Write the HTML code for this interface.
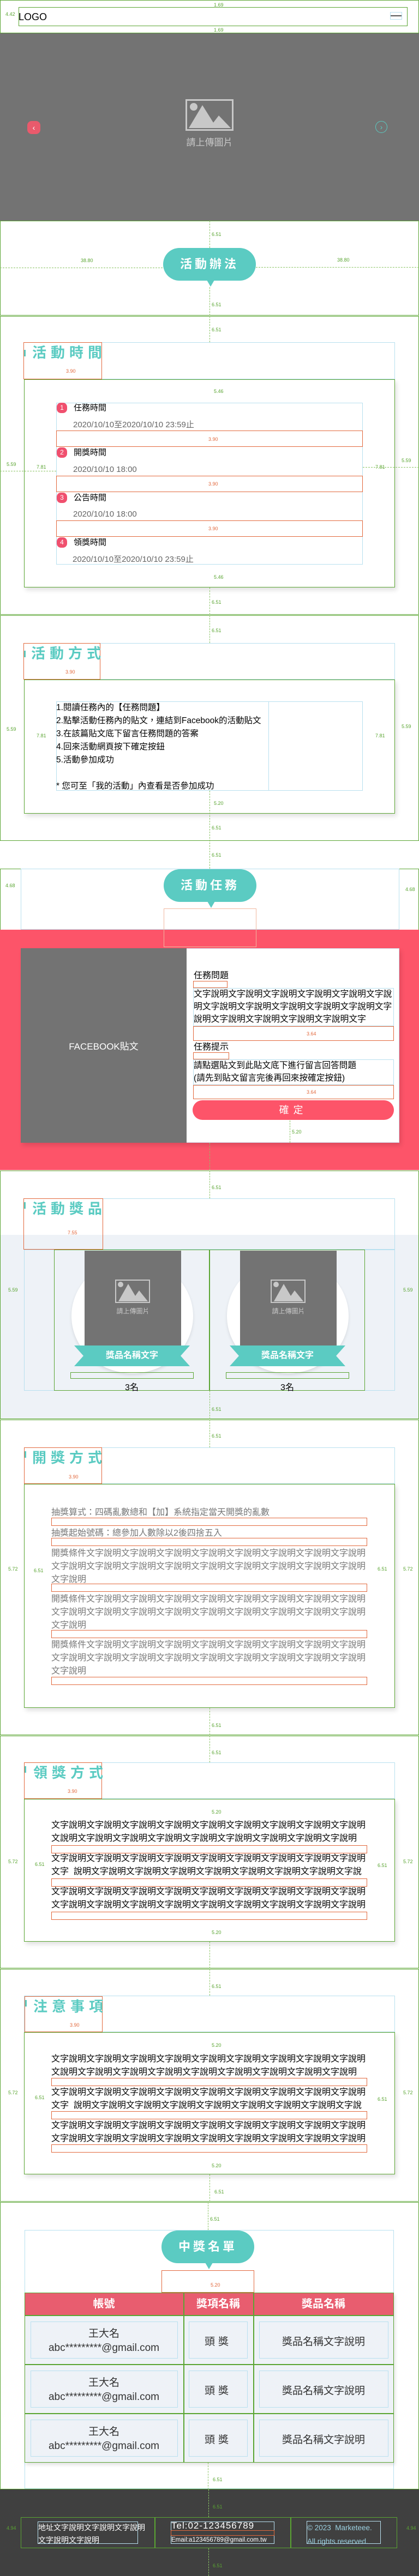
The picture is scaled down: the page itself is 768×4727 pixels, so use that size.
<!DOCTYPE html>
<html><head><meta charset="utf-8">
<style>
*{margin:0;padding:0;box-sizing:border-box}
body{width:768px;height:4727px;position:relative;background:#fff;font-family:"Liberation Sans","Noto Sans CJK TC",sans-serif;overflow:hidden}
.a{position:absolute}
.g{position:absolute;border:1.5px solid #5aa532}
.b{position:absolute;border:1px solid #b8e0ef}
.o{position:absolute;border:1.5px solid #e2683c}
.m{position:absolute;font-size:9px;color:#5aa532;line-height:10px}
.mo{position:absolute;font-size:9px;color:#e2683c;line-height:10px}
.vd{position:absolute;border-left:1px dashed #8cc466;width:0}
.hd{position:absolute;border-top:1px dashed #8cc466;height:0}
.ttl{position:absolute;font-size:26px;letter-spacing:8px;color:#5bcbc2;font-weight:bold;line-height:30px;white-space:nowrap}
.bar{position:absolute;width:3px;height:12px;background:#5bcbc2}
.card{position:absolute;border:1.5px solid #5aa532;background:#fff;box-shadow:3px 5px 8px rgba(0,0,0,.12)}
.pill{position:absolute;width:170px;height:60px;border-radius:30px;background:#5bcbc2;color:#fff;font-size:22px;font-weight:bold;letter-spacing:5px;text-align:center;line-height:60px}
.pill:after{content:"";position:absolute;left:80px;top:59px;border-left:7px solid transparent;border-right:7px solid transparent;border-top:12px solid #5bcbc2}
.t15{position:absolute;font-size:15px;line-height:20px;white-space:nowrap}
.nw{white-space:nowrap}
</style></head><body>

<!-- header -->
<div class="g" style="left:0;top:0;width:768px;height:61px"></div>
<div class="g" style="left:34px;top:13px;width:713px;height:35px"></div>
<div class="a" style="left:34px;top:20px;font-size:18px;line-height:22px">LOGO</div>
<div class="a" style="left:715px;top:28px;width:22px;height:2px;background:#555"></div>
<div class="b" style="left:715px;top:22px;width:22px;height:14px"></div>
<div class="m" style="left:392px;top:4px">1.69</div><div class="m" style="left:392px;top:50px">1.69</div>
<div class="m" style="left:10px;top:21px">4.42</div>

<!-- banner -->
<div class="a" style="left:0;top:61px;width:768px;height:344px;background:#737373"></div>
<div class="a" style="left:340px;top:182px;width:88px;height:58px;border:3px solid #c8c8c8"></div>
<div class="a" style="left:348px;top:189px;width:14px;height:14px;border-radius:50%;background:#c8c8c8"></div>
<svg class="a" style="left:343px;top:185px" width="82" height="52"><polygon points="3,50 28,8 48,40 58,27 80,50" fill="#c8c8c8"/></svg>
<div class="a" style="left:340px;top:247px;width:88px;text-align:center;font-size:17px;color:#c8c8c8">請上傳圖片</div>
<div class="a" style="left:50px;top:222px;width:24px;height:24px;border-radius:8px;background:#e95a6c;color:#fff;text-align:center;line-height:24px;font-size:14px">‹</div>
<div class="a" style="left:688px;top:222px;width:22px;height:22px;border-radius:50%;border:1px solid #5bcbc2;color:#5bcbc2;text-align:center;line-height:20px;font-size:14px">›</div>

<!-- 活動辦法 -->
<div class="g" style="left:0;top:405px;width:768px;height:174px"></div>
<div class="hd" style="left:0;top:491px;width:298px"></div><div class="hd" style="left:469px;top:490px;width:299px"></div>
<div class="vd" style="left:384px;top:405px;height:50px"></div><div class="vd" style="left:384px;top:527px;height:52px"></div>
<div class="m" style="left:148px;top:473px">38.80</div><div class="m" style="left:618px;top:472px">38.80</div>
<div class="m" style="left:388px;top:425px">6.51</div><div class="m" style="left:388px;top:554px">6.51</div>
<div class="pill" style="left:299px;top:455px">活動辦法</div>

<!-- 活動時間 -->
<div class="g" style="left:0;top:580px;width:768px;height:548px"></div>
<div class="vd" style="left:384px;top:580px;height:48px"></div>
<div class="m" style="left:388px;top:600px">6.51</div>
<div class="b" style="left:43px;top:628px;width:681px;height:68px"></div>
<div class="o" style="left:43px;top:628px;width:144px;height:68px"></div>
<div class="bar" style="left:44px;top:642px"></div>
<div class="ttl" style="left:59px;top:632px">活動時間</div>
<div class="mo" style="left:121px;top:676px">3.90</div>
<div class="card" style="left:44px;top:696px;width:680px;height:382px"></div>
<div class="b" style="left:103px;top:739px;width:562px;height:297px"></div>
<div class="m" style="left:392px;top:713px">5.46</div><div class="m" style="left:392px;top:1054px">5.46</div>
<div class="m" style="left:12px;top:847px">5.59</div><div class="m" style="left:67px;top:852px">7.81</div>
<div class="m" style="left:736px;top:840px">5.59</div><div class="m" style="left:688px;top:852px">7.81</div>
<div class="hd" style="left:0;top:864px;width:103px"></div><div class="hd" style="left:665px;top:857px;width:103px"></div>

<div class="a" style="left:104px;top:739px;width:19px;height:19px;border-radius:40%;background:#f0506e;color:#fff;font-size:12px;text-align:center;line-height:19px">1</div>
<div class="t15" style="left:135px;top:739px">任務時間</div>
<div class="t15" style="left:134px;top:770px;color:#666">2020/10/10至2020/10/10 23:59止</div>
<div class="o" style="left:103px;top:790px;width:562px;height:30px"></div><div class="mo" style="left:382px;top:801px">3.90</div>
<div class="a" style="left:104px;top:821px;width:19px;height:19px;border-radius:40%;background:#f0506e;color:#fff;font-size:12px;text-align:center;line-height:19px">2</div>
<div class="t15" style="left:135px;top:821px">開獎時間</div>
<div class="t15" style="left:134px;top:852px;color:#666">2020/10/10 18:00</div>
<div class="o" style="left:103px;top:873px;width:562px;height:30px"></div><div class="mo" style="left:382px;top:883px">3.90</div>
<div class="a" style="left:104px;top:904px;width:19px;height:19px;border-radius:40%;background:#f0506e;color:#fff;font-size:12px;text-align:center;line-height:19px">3</div>
<div class="t15" style="left:135px;top:904px">公告時間</div>
<div class="t15" style="left:134px;top:934px;color:#666">2020/10/10 18:00</div>
<div class="o" style="left:103px;top:955px;width:562px;height:30px"></div><div class="mo" style="left:382px;top:965px">3.90</div>
<div class="a" style="left:104px;top:986px;width:19px;height:19px;border-radius:40%;background:#f0506e;color:#fff;font-size:12px;text-align:center;line-height:19px">4</div>
<div class="t15" style="left:135px;top:986px">領獎時間</div>
<div class="t15" style="left:133px;top:1017px;color:#666">2020/10/10至2020/10/10 23:59止</div>
<div class="vd" style="left:384px;top:1078px;height:50px"></div><div class="m" style="left:388px;top:1100px">6.51</div>

<!-- 活動方式 -->
<div class="g" style="left:0;top:1129px;width:768px;height:414px"></div>
<div class="vd" style="left:384px;top:1129px;height:51px"></div><div class="m" style="left:388px;top:1152px">6.51</div>
<div class="b" style="left:43px;top:1180px;width:681px;height:67px"></div>
<div class="o" style="left:43px;top:1180px;width:141px;height:67px"></div>
<div class="bar" style="left:44px;top:1194px"></div>
<div class="ttl" style="left:57px;top:1184px">活動方式</div>
<div class="mo" style="left:120px;top:1228px">3.90</div>
<div class="card" style="left:44px;top:1247px;width:680px;height:246px"></div>
<div class="b" style="left:103px;top:1287px;width:562px;height:164px"></div>
<div class="a" style="left:492px;top:1287px;width:1px;height:164px;background:#b8e0ef"></div>
<div class="a" style="left:103px;top:1287px;font-size:15.5px;line-height:24px;white-space:nowrap">1.閱讀任務內的【任務問題】<br>2.點擊活動任務內的貼文，連結到Facebook的活動貼文<br>3.在該篇貼文底下留言任務問題的答案<br>4.回來活動網頁按下確定按鈕<br>5.活動參加成功<br><br>* 您可至「我的活動」內查看是否參加成功</div>
<div class="m" style="left:12px;top:1333px">5.59</div><div class="m" style="left:67px;top:1345px">7.81</div>
<div class="m" style="left:736px;top:1328px">5.59</div><div class="m" style="left:688px;top:1345px">7.81</div>
<div class="m" style="left:392px;top:1469px">5.20</div>
<div class="vd" style="left:384px;top:1451px;height:143px"></div>
<div class="m" style="left:388px;top:1514px">6.51</div><div class="m" style="left:388px;top:1564px">6.51</div>

<!-- 活動任務 -->
<div class="g" style="left:0;top:1594px;width:768px;height:553px"></div>
<div class="b" style="left:38px;top:1594px;width:694px;height:112px"></div>
<div class="a" style="left:0;top:1706px;width:768px;height:441px;background:#fd5469"></div>
<div class="m" style="left:10px;top:1620px">4.68</div><div class="m" style="left:743px;top:1627px">4.68</div>
<div class="pill" style="left:300px;top:1595px">活動任務</div>
<div class="o" style="left:300px;top:1667px;width:170px;height:71px;border-color:#f0b8a0"></div>
<div class="card" style="left:38px;top:1740px;width:694px;height:357px;border:1px solid #cfd8e8"></div>
<div class="a" style="left:38px;top:1740px;width:304px;height:357px;background:#737373"></div>
<div class="a" style="left:38px;top:1906px;width:304px;text-align:center;color:#fff;font-size:17px">FACEBOOK貼文</div>
<div class="t15" style="left:355px;top:1781px;font-size:16px">任務問題</div>
<div class="o" style="left:354px;top:1800px;width:63px;height:13px"></div>
<div class="b" style="left:354px;top:1813px;width:368px;height:70px"></div>
<div class="a nw" style="left:355px;top:1813px;font-size:15.8px;line-height:23px">文字說明文字說明文字說明文字說明文字說明文字說<br>明文字說明文字說明文字說明文字說明文字說明文字<br>說明文字說明文字說明文字說明文字說明文字</div>
<div class="o" style="left:354px;top:1883px;width:368px;height:27px"></div><div class="mo" style="left:562px;top:1892px">3.64</div>
<div class="t15" style="left:355px;top:1912px;font-size:16px">任務提示</div>
<div class="o" style="left:354px;top:1931px;width:66px;height:13px"></div>
<div class="b" style="left:354px;top:1944px;width:368px;height:47px"></div>
<div class="a nw" style="left:355px;top:1944px;font-size:15.7px;line-height:23px">請點選貼文到此貼文底下進行留言回答問題<br>(請先到貼文留言完後再回來按確定按鈕)</div>
<div class="o" style="left:354px;top:1991px;width:368px;height:26px"></div><div class="mo" style="left:562px;top:1999px">3.64</div>
<div class="a" style="left:353px;top:2019px;width:369px;height:36px;border-radius:18px;background:#fd5469;color:#fff;font-size:18px;text-align:center;line-height:36px;letter-spacing:8px">確定</div>
<div class="vd" style="left:531px;top:2056px;height:41px"></div><div class="m" style="left:535px;top:2072px">5.20</div>
<div class="vd" style="left:384px;top:2097px;height:50px"></div>

<!-- 活動獎品 -->
<div class="g" style="left:0;top:2148px;width:768px;height:456px"></div>
<div class="a" style="left:1px;top:2266px;width:766px;height:337px;background:#eef2f7"></div>
<div class="vd" style="left:384px;top:2148px;height:51px"></div><div class="m" style="left:388px;top:2174px">6.51</div>
<div class="b" style="left:43px;top:2199px;width:681px;height:94px"></div>
<div class="o" style="left:43px;top:2199px;width:146px;height:94px"></div>
<div class="bar" style="left:44px;top:2206px"></div>
<div class="ttl" style="left:59px;top:2203px">活動獎品</div>
<div class="mo" style="left:124px;top:2257px">7.55</div>
<div class="b" style="left:44px;top:2293px;width:680px;height:259px"></div>
<div class="m" style="left:15px;top:2362px">5.59</div><div class="m" style="left:739px;top:2362px">5.59</div>

<div class="g" style="left:99px;top:2293px;width:285px;height:259px"></div>
<div class="a" style="left:131px;top:2310px;width:223px;height:210px;border-radius:50%;background:#fff;box-shadow:0 3px 6px rgba(0,0,0,.1)"></div>
<div class="a" style="left:155px;top:2295px;width:177px;height:175px;background:#737373"></div>
<div class="a" style="left:211px;top:2348px;width:64px;height:43px;border:2px solid #c8c8c8"></div>
<svg class="a" style="left:213px;top:2350px" width="60" height="40"><circle cx="8" cy="7" r="5" fill="#c8c8c8"/><polygon points="4,38 22,6 35,28 42,18 58,38" fill="#c8c8c8"/></svg>
<div class="a" style="left:155px;top:2397px;width:177px;text-align:center;font-size:12px;color:#c8c8c8">請上傳圖片</div>
<div class="a" style="left:136px;top:2469px;width:212px;height:38px;background:#5bcbc2;clip-path:polygon(0 0,100% 0,92% 50%,100% 100%,0 100%,8% 50%);color:#fff;font-weight:bold;font-size:16px;text-align:center;line-height:38px">獎品名稱文字</div>
<div class="g" style="left:129px;top:2518px;width:226px;height:12px;border-width:1px"></div>
<div class="a" style="left:99px;top:2532px;width:285px;text-align:center;font-size:16px">3名</div>

<div class="g" style="left:384px;top:2293px;width:285px;height:259px"></div>
<div class="a" style="left:416px;top:2310px;width:223px;height:210px;border-radius:50%;background:#fff;box-shadow:0 3px 6px rgba(0,0,0,.1)"></div>
<div class="a" style="left:440px;top:2295px;width:177px;height:175px;background:#737373"></div>
<div class="a" style="left:496px;top:2348px;width:64px;height:43px;border:2px solid #c8c8c8"></div>
<svg class="a" style="left:498px;top:2350px" width="60" height="40"><circle cx="8" cy="7" r="5" fill="#c8c8c8"/><polygon points="4,38 22,6 35,28 42,18 58,38" fill="#c8c8c8"/></svg>
<div class="a" style="left:440px;top:2397px;width:177px;text-align:center;font-size:12px;color:#c8c8c8">請上傳圖片</div>
<div class="a" style="left:421px;top:2469px;width:212px;height:38px;background:#5bcbc2;clip-path:polygon(0 0,100% 0,92% 50%,100% 100%,0 100%,8% 50%);color:#fff;font-weight:bold;font-size:16px;text-align:center;line-height:38px">獎品名稱文字</div>
<div class="g" style="left:414px;top:2518px;width:226px;height:12px;border-width:1px"></div>
<div class="a" style="left:384px;top:2532px;width:285px;text-align:center;font-size:16px">3名</div>
<div class="vd" style="left:384px;top:2552px;height:52px"></div><div class="m" style="left:388px;top:2581px">6.51</div>

<!-- 開獎方式 -->
<div class="g" style="left:0;top:2605px;width:768px;height:579px"></div>
<div class="vd" style="left:384px;top:2605px;height:51px"></div><div class="m" style="left:388px;top:2630px">6.51</div>
<div class="b" style="left:44px;top:2656px;width:680px;height:67px"></div>
<div class="o" style="left:44px;top:2656px;width:143px;height:67px"></div>
<div class="bar" style="left:45px;top:2663px"></div>
<div class="ttl" style="left:59px;top:2660px">開獎方式</div>
<div class="mo" style="left:126px;top:2705px">3.90</div>
<div class="card" style="left:44px;top:2723px;width:680px;height:411px"></div>
<div class="m" style="left:15px;top:2874px">5.72</div><div class="m" style="left:62px;top:2877px">6.51</div>
<div class="m" style="left:692px;top:2874px">6.51</div><div class="m" style="left:739px;top:2874px">5.72</div>
<div class="a" style="left:94px;top:2764px;width:579px;color:#777;font-size:16px;line-height:24px">
<div class="nw">抽獎算式：四碼亂數總和【加】系統指定當天開獎的亂數</div>
<div style="height:14px"></div>
<div class="nw">抽獎起始號碼：總參加人數除以2後四捨五入</div>
<div style="height:13px"></div>
<div class="nw">開獎條件文字說明文字說明文字說明文字說明文字說明文字說明文字說明文字說明<br>文字說明文字說明文字說明文字說明文字說明文字說明文字說明文字說明文字說明<br>文字說明</div>
<div style="height:12px"></div>
<div class="nw">開獎條件文字說明文字說明文字說明文字說明文字說明文字說明文字說明文字說明<br>文字說明文字說明文字說明文字說明文字說明文字說明文字說明文字說明文字說明<br>文字說明</div>
<div style="height:12px"></div>
<div class="nw">開獎條件文字說明文字說明文字說明文字說明文字說明文字說明文字說明文字說明<br>文字說明文字說明文字說明文字說明文字說明文字說明文字說明文字說明文字說明<br>文字說明</div>
</div>
<div class="o" style="left:94px;top:2785px;width:579px;height:15px"></div>
<div class="o" style="left:94px;top:2822px;width:579px;height:15px"></div>
<div class="o" style="left:94px;top:2906px;width:579px;height:15px"></div>
<div class="o" style="left:94px;top:2991px;width:579px;height:15px"></div>
<div class="o" style="left:94px;top:3077px;width:579px;height:15px"></div>
<div class="vd" style="left:384px;top:3134px;height:50px"></div><div class="m" style="left:388px;top:3161px">6.51</div>

<!-- 領獎方式 -->
<div class="g" style="left:0;top:3185px;width:768px;height:427px"></div>
<div class="vd" style="left:384px;top:3185px;height:49px"></div><div class="m" style="left:388px;top:3211px">6.51</div>
<div class="b" style="left:44px;top:3234px;width:680px;height:67px"></div>
<div class="o" style="left:44px;top:3234px;width:143px;height:67px"></div>
<div class="bar" style="left:45px;top:3241px"></div>
<div class="ttl" style="left:61px;top:3238px">領獎方式</div>
<div class="mo" style="left:124px;top:3282px">3.90</div>
<div class="card" style="left:44px;top:3301px;width:680px;height:262px"></div>
<div class="m" style="left:388px;top:3320px">5.20</div><div class="m" style="left:388px;top:3541px">5.20</div>
<div class="m" style="left:15px;top:3411px">5.72</div><div class="m" style="left:64px;top:3416px">6.51</div>
<div class="m" style="left:692px;top:3418px">6.51</div><div class="m" style="left:739px;top:3411px">5.72</div>
<div class="a" style="left:94px;top:3338px;width:580px;font-size:16px;line-height:24px">
<div class="nw">文字說明文字說明文字說明文字說明文字說明文字說明文字說明文字說明文字說明<br>文說明文字說明文字說明文字說明文字說明文字說明文字說明文字說明文字說明</div>
<div style="height:13px"></div>
<div class="nw">文字說明文字說明文字說明文字說明文字說明文字說明文字說明文字說明文字說明<br>文字&nbsp; 說明文字說明文字說明文字說明文字說明文字說明文字說明文字說明文字說</div>
<div style="height:13px"></div>
<div class="nw">文字說明文字說明文字說明文字說明文字說明文字說明文字說明文字說明文字說明<br>文字說明文字說明文字說明文字說明文字說明文字說明文字說明文字說明文字說明</div>
</div>
<div class="o" style="left:94px;top:3386px;width:579px;height:15px"></div>
<div class="o" style="left:94px;top:3447px;width:579px;height:15px"></div>
<div class="o" style="left:94px;top:3508px;width:579px;height:15px"></div>
<div class="vd" style="left:384px;top:3563px;height:49px"></div>

<!-- 注意事項 -->
<div class="g" style="left:0;top:3613px;width:768px;height:427px"></div>
<div class="vd" style="left:384px;top:3613px;height:49px"></div><div class="m" style="left:388px;top:3640px">6.51</div>
<div class="b" style="left:44px;top:3662px;width:680px;height:67px"></div>
<div class="o" style="left:45px;top:3663px;width:143px;height:66px"></div>
<div class="bar" style="left:46px;top:3670px"></div>
<div class="ttl" style="left:61px;top:3667px">注意事項</div>
<div class="mo" style="left:128px;top:3711px">3.90</div>
<div class="card" style="left:44px;top:3729px;width:680px;height:261px"></div>
<div class="m" style="left:388px;top:3748px">5.20</div><div class="m" style="left:388px;top:3969px">5.20</div>
<div class="m" style="left:15px;top:3835px">5.72</div><div class="m" style="left:64px;top:3844px">6.51</div>
<div class="m" style="left:692px;top:3847px">6.51</div><div class="m" style="left:739px;top:3835px">5.72</div>
<div class="a" style="left:94px;top:3767px;width:580px;font-size:16px;line-height:24px">
<div class="nw">文字說明文字說明文字說明文字說明文字說明文字說明文字說明文字說明文字說明<br>文說明文字說明文字說明文字說明文字說明文字說明文字說明文字說明文字說明</div>
<div style="height:13px"></div>
<div class="nw">文字說明文字說明文字說明文字說明文字說明文字說明文字說明文字說明文字說明<br>文字&nbsp; 說明文字說明文字說明文字說明文字說明文字說明文字說明文字說明文字說</div>
<div style="height:13px"></div>
<div class="nw">文字說明文字說明文字說明文字說明文字說明文字說明文字說明文字說明文字說明<br>文字說明文字說明文字說明文字說明文字說明文字說明文字說明文字說明文字說明</div>
</div>
<div class="o" style="left:94px;top:3813px;width:579px;height:15px"></div>
<div class="o" style="left:94px;top:3874px;width:579px;height:15px"></div>
<div class="o" style="left:94px;top:3935px;width:579px;height:15px"></div>
<div class="vd" style="left:384px;top:3990px;height:50px"></div><div class="m" style="left:393px;top:4017px">6.51</div>

<!-- 中獎名單 -->
<div class="g" style="left:0;top:4041px;width:768px;height:527px"></div>
<div class="vd" style="left:381px;top:4041px;height:51px"></div><div class="m" style="left:385px;top:4067px">6.51</div>
<div class="b" style="left:45px;top:4092px;width:677px;height:475px"></div>
<div class="pill" style="left:296px;top:4093px">中獎名單</div>
<div class="o" style="left:296px;top:4166px;width:170px;height:41px"></div><div class="mo" style="left:386px;top:4188px">5.20</div>

<div class="a" style="left:45px;top:4207px;width:677px;height:312px;box-shadow:2px 4px 6px rgba(0,0,0,.12)"></div>
<div class="a" style="left:45px;top:4207px;width:677px;height:42px;background:#e85d6f"></div>
<div class="a" style="left:45px;top:4207px;width:291px;height:42px;color:#fff;font-weight:bold;font-size:20px;text-align:center;line-height:42px">帳號</div>
<div class="a" style="left:336px;top:4207px;width:128px;height:42px;color:#fff;font-weight:bold;font-size:20px;text-align:center;line-height:42px">獎項名稱</div>
<div class="a" style="left:464px;top:4207px;width:258px;height:42px;color:#fff;font-weight:bold;font-size:20px;text-align:center;line-height:42px">獎品名稱</div>

<div class="a" style="left:45px;top:4249px;width:677px;height:270px;background:#eef2f7"></div>
<div class="g" style="left:45px;top:4207px;width:677px;height:312px"></div>
<div class="a" style="left:336px;top:4207px;width:1.5px;height:312px;background:#5aa532"></div>
<div class="a" style="left:464px;top:4207px;width:1.5px;height:312px;background:#5aa532"></div>
<div class="a" style="left:45px;top:4248px;width:677px;height:2px;background:#5aa532"></div>
<div class="a" style="left:45px;top:4338px;width:677px;height:2px;background:#5aa532"></div>
<div class="a" style="left:45px;top:4428px;width:677px;height:2px;background:#5aa532"></div>

<div class="b" style="left:56px;top:4260px;width:270px;height:68px"></div>
<div class="b" style="left:346px;top:4260px;width:108px;height:68px"></div>
<div class="b" style="left:475px;top:4260px;width:237px;height:68px"></div>
<div class="a" style="left:45px;top:4267px;width:291px;text-align:center;font-size:19px;color:#333">王大名</div>
<div class="a" style="left:45px;top:4298px;width:291px;text-align:center;font-size:19px;color:#333">abc*********@gmail.com</div>
<div class="a" style="left:336px;top:4282px;width:128px;text-align:center;font-size:19px;color:#333;letter-spacing:6px">頭獎</div>
<div class="a" style="left:464px;top:4282px;width:258px;text-align:center;font-size:19px;color:#333">獎品名稱文字說明</div>

<div class="b" style="left:56px;top:4350px;width:270px;height:68px"></div>
<div class="b" style="left:346px;top:4350px;width:108px;height:68px"></div>
<div class="b" style="left:475px;top:4350px;width:237px;height:68px"></div>
<div class="a" style="left:45px;top:4357px;width:291px;text-align:center;font-size:19px;color:#333">王大名</div>
<div class="a" style="left:45px;top:4388px;width:291px;text-align:center;font-size:19px;color:#333">abc*********@gmail.com</div>
<div class="a" style="left:336px;top:4372px;width:128px;text-align:center;font-size:19px;color:#333;letter-spacing:6px">頭獎</div>
<div class="a" style="left:464px;top:4372px;width:258px;text-align:center;font-size:19px;color:#333">獎品名稱文字說明</div>

<div class="b" style="left:56px;top:4440px;width:270px;height:68px"></div>
<div class="b" style="left:346px;top:4440px;width:108px;height:68px"></div>
<div class="b" style="left:475px;top:4440px;width:237px;height:68px"></div>
<div class="a" style="left:45px;top:4447px;width:291px;text-align:center;font-size:19px;color:#333">王大名</div>
<div class="a" style="left:45px;top:4478px;width:291px;text-align:center;font-size:19px;color:#333">abc*********@gmail.com</div>
<div class="a" style="left:336px;top:4462px;width:128px;text-align:center;font-size:19px;color:#333;letter-spacing:6px">頭獎</div>
<div class="a" style="left:464px;top:4462px;width:258px;text-align:center;font-size:19px;color:#333">獎品名稱文字說明</div>
<div class="vd" style="left:381px;top:4519px;height:49px"></div><div class="m" style="left:390px;top:4545px">6.51</div>

<!-- footer -->
<div class="a" style="left:0;top:4568px;width:768px;height:159px;background:#404040"></div>
<div class="vd" style="left:382px;top:4568px;height:51px"></div><div class="vd" style="left:382px;top:4676px;height:51px"></div>
<div class="m" style="left:390px;top:4595px">6.51</div><div class="m" style="left:390px;top:4703px">6.51</div>
<div class="g" style="left:38px;top:4619px;width:690px;height:57px"></div>
<div class="a" style="left:283px;top:4619px;width:1.5px;height:57px;background:#5aa532"></div>
<div class="a" style="left:532px;top:4619px;width:1.5px;height:57px;background:#5aa532"></div>
<div class="b" style="left:69px;top:4627px;width:184px;height:41px"></div>
<div class="a" style="left:70px;top:4627px;color:#fff;font-size:14px;line-height:23px;white-space:nowrap">地址文字說明文字說明文字說明<br>文字說明文字說明</div>
<div class="b" style="left:313px;top:4627px;width:190px;height:41px"></div>
<div class="a" style="left:314px;top:4625px;color:#fff;font-size:17px;line-height:20px;letter-spacing:1px">Tel:02-123456789</div>
<div class="o" style="left:313px;top:4643px;width:190px;height:10px"></div>
<div class="a" style="left:314px;top:4654px;color:#fff;font-size:11.5px;line-height:14px">Email:a123456789@gmail.com.tw</div>
<div class="b" style="left:562px;top:4626px;width:136px;height:42px"></div>
<div class="a" style="left:563px;top:4626px;color:#9bd0e0;font-size:13.5px;line-height:25px;white-space:nowrap">© 2023 &nbsp;Marketeee.<br>All rights reserved.</div>
<div class="m" style="left:12px;top:4634px">4.94</div><div class="m" style="left:745px;top:4634px">4.94</div>
</body></html>
